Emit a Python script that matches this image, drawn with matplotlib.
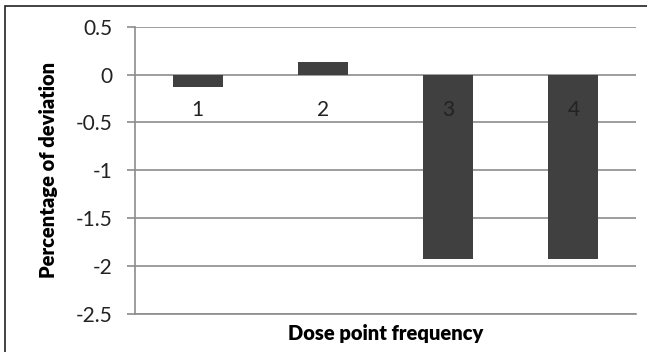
import matplotlib
matplotlib.use("Agg")
import matplotlib.pyplot as plt
from matplotlib.patches import Rectangle

categories = ["1", "2", "3", "4"]
deviation = [-0.13, 0.13, -1.93, -1.93]
y_ticks = [0.5, 0, -0.5, -1, -1.5, -2, -2.5]
y_tick_labels = ["0.5", "0", "-0.5", "-1", "-1.5", "-2", "-2.5"]

plt.rcParams['font.family'] = ['Lato', 'DejaVu Sans']

W, H = 647, 352
fig = plt.figure(figsize=(W / 100, H / 100), dpi=100)
ax = fig.add_axes([135 / W, 1 - 314 / H, (636 - 135) / W, (314 - 26.7) / H])

grid_c = "#8c8c8c"
x = list(range(len(categories)))
ax.bar(x, deviation, width=0.4, color="#404040", zorder=3)

ax.set_xlim(-0.5, len(categories) - 0.5)
ax.set_ylim(-2.5, 0.5)
ax.set_yticks(y_ticks)
ax.set_yticklabels(y_tick_labels, fontsize=15, color="#222222")
ax.yaxis.grid(True, color=grid_c, linewidth=1.2, zorder=0)
ax.set_xticks([])
for s in ["top", "right"]:
    ax.spines[s].set_visible(False)
ax.spines["left"].set_color(grid_c)
ax.spines["left"].set_linewidth(1.2)
ax.spines["bottom"].set_color(grid_c)
ax.spines["bottom"].set_linewidth(1.2)
ax.tick_params(axis="y", length=6, width=1.2, color=grid_c, pad=10)

# category labels sit just below the zero line
for xi, lab in zip(x, categories):
    ax.text(xi, -0.375, lab, ha="center", va="center", fontsize=15,
            color="#222222", zorder=4)

ax.set_ylabel("Percentage of deviation", fontsize=14.5, fontweight="heavy",
              labelpad=13)
ax.set_xlabel("Dose point frequency", fontsize=14.5, fontweight="heavy",
              labelpad=7)

fig.patches.append(Rectangle((5 / W, -0.05), 1.0, 1 - 6 / H + 0.05,
                             transform=fig.transFigure, fill=False,
                             edgecolor="#222222", linewidth=1.2))

fig.savefig("out.png", dpi=100)
